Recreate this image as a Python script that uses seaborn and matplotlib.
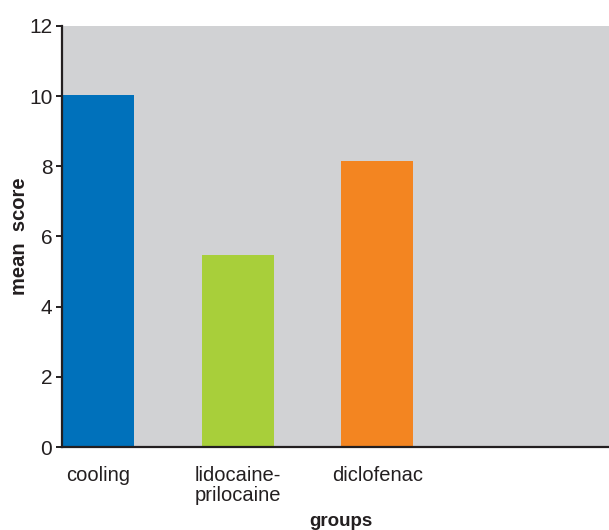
import matplotlib
matplotlib.use('agg')
import matplotlib.pyplot as plt
import seaborn as sns

groups = ['cooling', 'lidocaine-\nprilocaine', 'diclofenac']
scores = [10.03, 5.47, 8.15]
colors = ['#0071bb', '#a8cf3a', '#f38521']

sns.set_style("white")
plt.rcParams['font.family'] = ['Liberation Sans', 'DejaVu Sans']

fig = plt.figure(figsize=(6.09, 5.30), dpi=100)
ax = fig.add_axes([0.1018, 0.1566, 0.8982, 0.7944])
ax.set_facecolor('#d1d2d4')
sns.barplot(x=groups, y=scores, hue=groups, palette=colors, legend=False,
            width=0.516, saturation=1, linewidth=0, ax=ax)

ax.set_xlim(-0.258, 3.66)
ax.set_ylim(0, 12)
ax.set_yticks([0, 2, 4, 6, 8, 10, 12])
for s in ['top', 'right']:
    ax.spines[s].set_visible(False)
for s in ['left', 'bottom']:
    ax.spines[s].set_color('#231f20')
    ax.spines[s].set_linewidth(1.6)
ax.tick_params(axis='y', left=True, length=4, width=1.4, color='#231f20',
               labelsize=15, pad=3, labelcolor='#231f20')
ax.tick_params(axis='x', bottom=False, labelsize=14.5, pad=10, labelcolor='#231f20')
for lbl in ax.get_xticklabels():
    lbl.set_linespacing(1.1)
ax.set_ylabel('mean  score', fontsize=14.5, fontweight='bold', color='#231f20')
ax.yaxis.set_label_coords(-0.06, 0.5)
ax.set_xlabel('groups', fontsize=13.5, fontweight='bold', color='#231f20')
ax.xaxis.set_label_coords(0.51, -0.157)

fig.savefig('out.png', dpi=100)
